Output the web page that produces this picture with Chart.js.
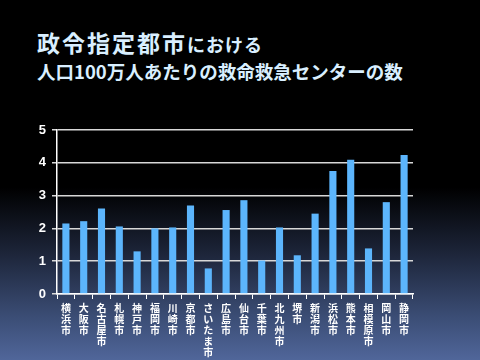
<!DOCTYPE html>
<html lang="ja">
<head>
    <meta charset="UTF-8">
    <title>政令指定都市における人口100万人あたりの救命救急センターの数</title>
    <script src="https://cdn.jsdelivr.net/npm/chart.js"></script>
    <style>
        body {
            margin: 0;
            padding: 0;
            width: 480px;
            height: 360px;
            overflow: hidden;
            background: linear-gradient(to bottom, #000 0%, #000 52%, #1c2438 70%, #3b4d75 88%, #50669a 100%);
            font-family: "Noto Sans CJK JP", sans-serif;
        }
        .wrap {
            position: relative;
            width: 480px;
            height: 360px;
        }
        .title {
            position: absolute;
            left: 37px;
            top: 31px;
            color: #d9efff;
            font-weight: bold;
            line-height: 1;
            white-space: nowrap;
        }
        .title .l1 { font-size: 23px; letter-spacing: 2px; }
        .title .l1 small { font-size: 18px; letter-spacing: 1px; }
        .title .l2 { font-size: 18.5px; margin-top: 8px; }
        canvas { position: absolute; left: 0; top: 0; }
    </style>
</head>
<body>
<div class="wrap">
    <div class="title">
        <div class="l1">政令指定都市<small>における</small></div>
        <div class="l2">人口100万人あたりの救命救急センターの数</div>
    </div>
    <canvas id="barChart" width="480" height="360"></canvas>
</div>

<script>
    // 都市名
    const cities = ['横浜市', '大阪市', '名古屋市', '札幌市', '神戸市', '福岡市', '川崎市', '京都市', 'さいたま市', '広島市',
        '仙台市', '千葉市', '北九州市', '堺市', '新潟市', '浜松市', '熊本市', '相模原市', '岡山市', '静岡市'];

    // 人口100万人あたりの救命救急センター数
    const centers = [2.15, 2.22, 2.61, 2.06, 1.30, 2.00, 2.03, 2.70, 0.78, 2.56,
        2.86, 1.02, 2.03, 1.18, 2.45, 3.75, 4.09, 1.39, 2.80, 4.24];

    const yTicks = [0, 1, 2, 3, 4, 5];

    // 縦書き風に一文字ずつ改行
    const verticalLabels = cities.map(c => c.split(''));

    const ctx = document.getElementById('barChart').getContext('2d');
    new Chart(ctx, {
        type: 'bar',
        data: {
            labels: verticalLabels,
            datasets: [{
                data: centers,
                backgroundColor: '#5cb5fc',
                borderWidth: 0,
                barPercentage: 0.4,
                categoryPercentage: 1.0
            }]
        },
        options: {
            responsive: false,
            animation: false,
            layout: {
                padding: { top: 130, right: 67, bottom: 0, left: 0 }
            },
            plugins: {
                legend: { display: false },
                tooltip: { enabled: false }
            },
            scales: {
                x: {
                    afterFit: (scale) => { scale.height = 66; },
                    grid: {
                        display: true,
                        drawOnChartArea: false,
                        drawTicks: true,
                        tickLength: 5,
                        color: '#ffffff',
                        lineWidth: 1
                    },
                    border: { color: '#ffffff', width: 1.5 },
                    ticks: {
                        color: '#ffffff',
                        maxRotation: 0,
                        autoSkip: false,
                        padding: 4,
                        font: { family: '"Noto Sans CJK JP"', size: 10, weight: 'bold', lineHeight: 1.1 }
                    }
                },
                y: {
                    min: 0,
                    max: 5,
                    afterFit: (scale) => { scale.width = 57; },
                    afterBuildTicks: (scale) => { scale.ticks = yTicks.map(v => ({ value: v })); },
                    grid: {
                        color: '#d8d8d8',
                        lineWidth: 1.5,
                        drawTicks: true,
                        tickLength: 5
                    },
                    border: { color: '#ffffff', width: 1.5 },
                    ticks: {
                        color: '#ffffff',
                        padding: 6,
                        font: { family: '"Liberation Sans", Arial, sans-serif', size: 13, weight: 'bold' }
                    }
                }
            }
        }
    });
</script>
</body>
</html>
